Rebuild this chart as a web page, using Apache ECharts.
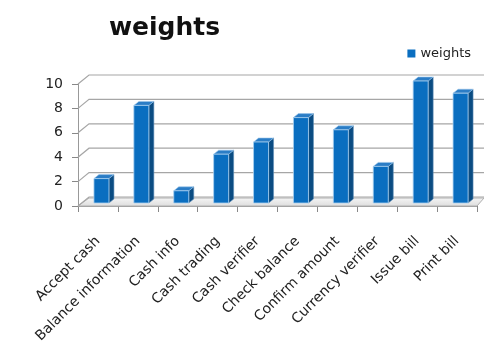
<!DOCTYPE html>
<html>
<head>
<meta charset="utf-8">
<script src="https://cdn.jsdelivr.net/npm/echarts@6/dist/echarts.min.js"></script>
<style>
html, body { margin: 0; padding: 0; background: #fff; }
#main { width: 484px; height: 347px; }
</style>
</head>
<body>
<div id="main"></div>
<script>
// chart data
var categories = ['Accept cash', 'Balance information', 'Cash info', 'Cash trading', 'Cash verifier',
    'Check balance', 'Confirm amount', 'Currency verifier', 'Issue bill', 'Print bill']
var weights = [2, 8, 1, 4, 5, 7, 6, 3, 10, 9]
var yTicks = [0, 2, 4, 6, 8, 10]

var chart = echarts.init(document.getElementById('main'))

// back wall offset (fake 3d)
var wallDx = 11
var wallDy = -9

function renderWall(params, api) {
    var v = api.value(1)
    var p = api.coord([0, v])
    var bw = api.size([1, 0])[0]
    var x0 = p[0] - bw / 2
    var xr = x0 + bw * categories.length
    return {
        type: 'polyline',
        shape: { points: [[x0, p[1]], [x0 + wallDx, p[1] + wallDy], [xr + 7, p[1] + wallDy]] },
        style: { stroke: '#a6a6a6', lineWidth: 1.2, fill: null },
        silent: true
    }
}

function renderFloor(params, api) {
    var p = api.coord([0, 0])
    var bw = api.size([1, 0])[0]
    var x0 = p[0] - bw / 2
    var xr = x0 + bw * categories.length
    var y = p[1]
    return {
        type: 'polygon',
        shape: { points: [[x0, y], [xr, y], [xr + 7, y - 8], [x0 + wallDx, y - 8]] },
        style: {
            fill: new echarts.graphic.LinearGradient(0, 0, 0, 1, [
                { offset: 0, color: '#f6f6f6' },
                { offset: 1, color: '#dcdcdc' }
            ]),
            stroke: '#b0b0b0',
            lineWidth: 1
        },
        silent: true
    }
}

function renderBar(params, api) {
    var top = api.coord([api.value(0), api.value(1)])
    var bot = api.coord([api.value(0), 0])
    var left = top[0] - 4
    var w = 15
    var ty = top[1] - 3
    var by = bot[1] - 3
    var dx = 5, dy = -4
    return {
        type: 'group',
        children: [
            {
                type: 'polygon',
                shape: { points: [[left + w, ty], [left + w + dx, ty + dy], [left + w + dx, by + dy], [left + w, by]] },
                style: { fill: '#0b4c82', stroke: '#5f8fb8', lineWidth: 0.6 }
            },
            {
                type: 'polygon',
                shape: { points: [[left, ty], [left + w, ty], [left + w + dx, ty + dy], [left + dx, ty + dy]] },
                style: { fill: '#2b7dc6', stroke: '#9cc6ea', lineWidth: 0.6 }
            },
            {
                type: 'rect',
                shape: { x: left, y: ty, width: w, height: by - ty },
                style: { fill: '#0a6ec0', stroke: '#a9d0f0', lineWidth: 0.8 }
            }
        ]
    }
}

var option = {
    animation: false,
    title: {
        text: 'weights',
        left: 104,
        top: 11,
        textStyle: { fontFamily: 'DejaVu Sans', fontSize: 25, fontWeight: 'bold', color: '#111' }
    },
    legend: {
        right: 8,
        top: 42,
        itemWidth: 8,
        itemHeight: 8,
        itemGap: 4,
        data: [{ name: 'weights', icon: 'rect' }],
        textStyle: { fontFamily: 'DejaVu Sans', fontSize: 13, color: '#222' }
    },
    grid: { left: 78, right: 7, top: 84, bottom: 141 },
    xAxis: {
        type: 'category',
        data: categories,
        axisLine: { lineStyle: { color: '#999' } },
        axisTick: { show: true, length: 6, lineStyle: { color: '#888' } },
        axisLabel: {
            rotate: 45,
            interval: 0,
            margin: 33,
            fontFamily: 'DejaVu Sans',
            fontSize: 14,
            color: '#222'
        }
    },
    yAxis: {
        type: 'value',
        min: 0,
        max: 10,
        interval: 2,
        axisLine: { show: true, lineStyle: { color: '#999' } },
        axisTick: { show: true, length: 6, lineStyle: { color: '#888' } },
        splitLine: { show: false },
        axisLabel: { margin: 15, fontFamily: 'DejaVu Sans', fontSize: 14, color: '#222' }
    },
    series: [
        {
            name: 'floor',
            type: 'custom',
            renderItem: renderFloor,
            data: [[0, 0]],
            z: 1,
            silent: true
        },
        {
            name: 'wall',
            type: 'custom',
            renderItem: renderWall,
            data: yTicks.map(function(v) { return [0, v] }),
            z: 1,
            silent: true
        },
        {
            name: 'weights',
            type: 'custom',
            renderItem: renderBar,
            itemStyle: { color: '#0a6ec0' },
            data: weights.map(function(v, i) { return [i, v] }),
            z: 3
        }
    ]
}
chart.setOption(option)
</script>
</body>
</html>
